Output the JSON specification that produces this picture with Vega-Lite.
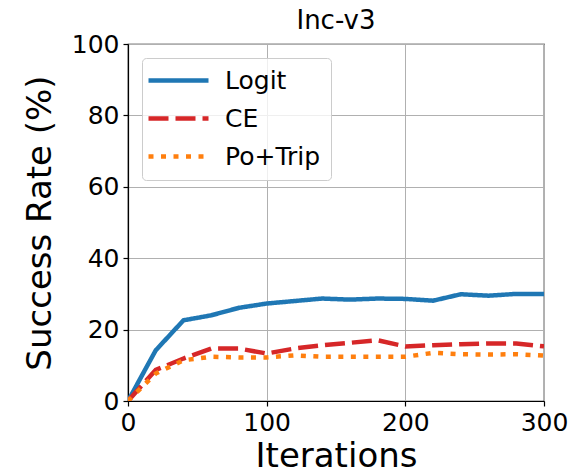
{
  "$schema": "https://vega.github.io/schema/vega-lite/v6.json",
  "width": 416,
  "height": 357,
  "autosize": {"type": "none"},
  "padding": {"left": 128, "top": 44, "right": 31, "bottom": 74},
  "background": "white",
  "config": {
    "font": "DejaVu Sans",
    "view": {"stroke": "black", "strokeWidth": 1.2},
    "axis": {
      "domainColor": "black",
      "domainWidth": 1.2,
      "tickColor": "black",
      "tickSize": 5,
      "tickWidth": 1.2,
      "labelFontSize": 25,
      "labelColor": "black",
      "labelPadding": 4,
      "labelFlush": false,
      "labelOverlap": false,
      "titleFontSize": 34,
      "titleFontWeight": "normal",
      "titleColor": "black",
      "gridColor": "#b0b0b0",
      "gridWidth": 1,
      "gridOpacity": 1
    },
    "legend": {
      "orient": "none",
      "legendX": 14,
      "legendY": 14,
      "symbolType": "M-1.6,0H4.4",
      "symbolSize": 400,
      "symbolStrokeWidth": 4.5,
      "labelFontSize": 25,
      "labelColor": "black",
      "labelOffset": 48,
      "padding": 10,
      "rowPadding": 12,
      "strokeColor": "#cccccc",
      "fillColor": "rgba(255,255,255,0.8)",
      "cornerRadius": 4
    }
  },
  "title": {"text": "Inc-v3", "fontSize": 26, "fontWeight": "normal", "offset": -2, "color": "black"},
  "data": {
    "values": [
      {"iter": 0, "rate": 0, "method": "Logit"},
      {"iter": 20, "rate": 14.2, "method": "Logit"},
      {"iter": 40, "rate": 22.6, "method": "Logit"},
      {"iter": 60, "rate": 24.0, "method": "Logit"},
      {"iter": 80, "rate": 26.1, "method": "Logit"},
      {"iter": 100, "rate": 27.3, "method": "Logit"},
      {"iter": 120, "rate": 28.0, "method": "Logit"},
      {"iter": 140, "rate": 28.7, "method": "Logit"},
      {"iter": 160, "rate": 28.4, "method": "Logit"},
      {"iter": 180, "rate": 28.7, "method": "Logit"},
      {"iter": 200, "rate": 28.6, "method": "Logit"},
      {"iter": 220, "rate": 28.1, "method": "Logit"},
      {"iter": 240, "rate": 29.9, "method": "Logit"},
      {"iter": 260, "rate": 29.5, "method": "Logit"},
      {"iter": 280, "rate": 30.0, "method": "Logit"},
      {"iter": 300, "rate": 30.0, "method": "Logit"},
      {"iter": 0, "rate": 0, "method": "CE"},
      {"iter": 20, "rate": 8.7, "method": "CE"},
      {"iter": 40, "rate": 11.9, "method": "CE"},
      {"iter": 60, "rate": 14.7, "method": "CE"},
      {"iter": 80, "rate": 14.7, "method": "CE"},
      {"iter": 100, "rate": 13.3, "method": "CE"},
      {"iter": 120, "rate": 14.7, "method": "CE"},
      {"iter": 140, "rate": 15.6, "method": "CE"},
      {"iter": 160, "rate": 16.3, "method": "CE"},
      {"iter": 180, "rate": 17.0, "method": "CE"},
      {"iter": 200, "rate": 15.3, "method": "CE"},
      {"iter": 220, "rate": 15.6, "method": "CE"},
      {"iter": 240, "rate": 15.9, "method": "CE"},
      {"iter": 260, "rate": 16.1, "method": "CE"},
      {"iter": 280, "rate": 16.1, "method": "CE"},
      {"iter": 300, "rate": 15.3, "method": "CE"},
      {"iter": 0, "rate": 0, "method": "Po+Trip"},
      {"iter": 20, "rate": 7.7, "method": "Po+Trip"},
      {"iter": 40, "rate": 11.4, "method": "Po+Trip"},
      {"iter": 60, "rate": 12.4, "method": "Po+Trip"},
      {"iter": 80, "rate": 12.2, "method": "Po+Trip"},
      {"iter": 100, "rate": 12.2, "method": "Po+Trip"},
      {"iter": 120, "rate": 12.8, "method": "Po+Trip"},
      {"iter": 140, "rate": 12.4, "method": "Po+Trip"},
      {"iter": 160, "rate": 12.4, "method": "Po+Trip"},
      {"iter": 180, "rate": 12.4, "method": "Po+Trip"},
      {"iter": 200, "rate": 12.4, "method": "Po+Trip"},
      {"iter": 220, "rate": 13.5, "method": "Po+Trip"},
      {"iter": 240, "rate": 13.1, "method": "Po+Trip"},
      {"iter": 260, "rate": 13.0, "method": "Po+Trip"},
      {"iter": 280, "rate": 13.1, "method": "Po+Trip"},
      {"iter": 300, "rate": 12.7, "method": "Po+Trip"}
    ]
  },
  "mark": {"type": "line", "strokeWidth": 4.5, "strokeCap": "butt", "clip": true},
  "encoding": {
    "x": {
      "field": "iter",
      "type": "quantitative",
      "scale": {"domain": [0, 300], "nice": false},
      "axis": {"values": [0, 100, 200, 300], "title": "Iterations", "titlePadding": 4}
    },
    "y": {
      "field": "rate",
      "type": "quantitative",
      "scale": {"domain": [0, 100], "nice": false},
      "axis": {"values": [0, 20, 40, 60, 80, 100], "title": "Success Rate (%)", "titlePadding": 14}
    },
    "color": {
      "field": "method",
      "type": "nominal",
      "sort": ["Logit", "CE", "Po+Trip"],
      "scale": {"domain": ["Logit", "CE", "Po+Trip"], "range": ["#1f77b4", "#d62728", "#ff7f0e"]},
      "legend": {"title": null}
    },
    "strokeDash": {
      "field": "method",
      "type": "nominal",
      "sort": ["Logit", "CE", "Po+Trip"],
      "scale": {"domain": ["Logit", "CE", "Po+Trip"], "range": [[1, 0], [20, 7], [5, 7.5]]},
      "legend": {"title": null}
    }
  }
}
